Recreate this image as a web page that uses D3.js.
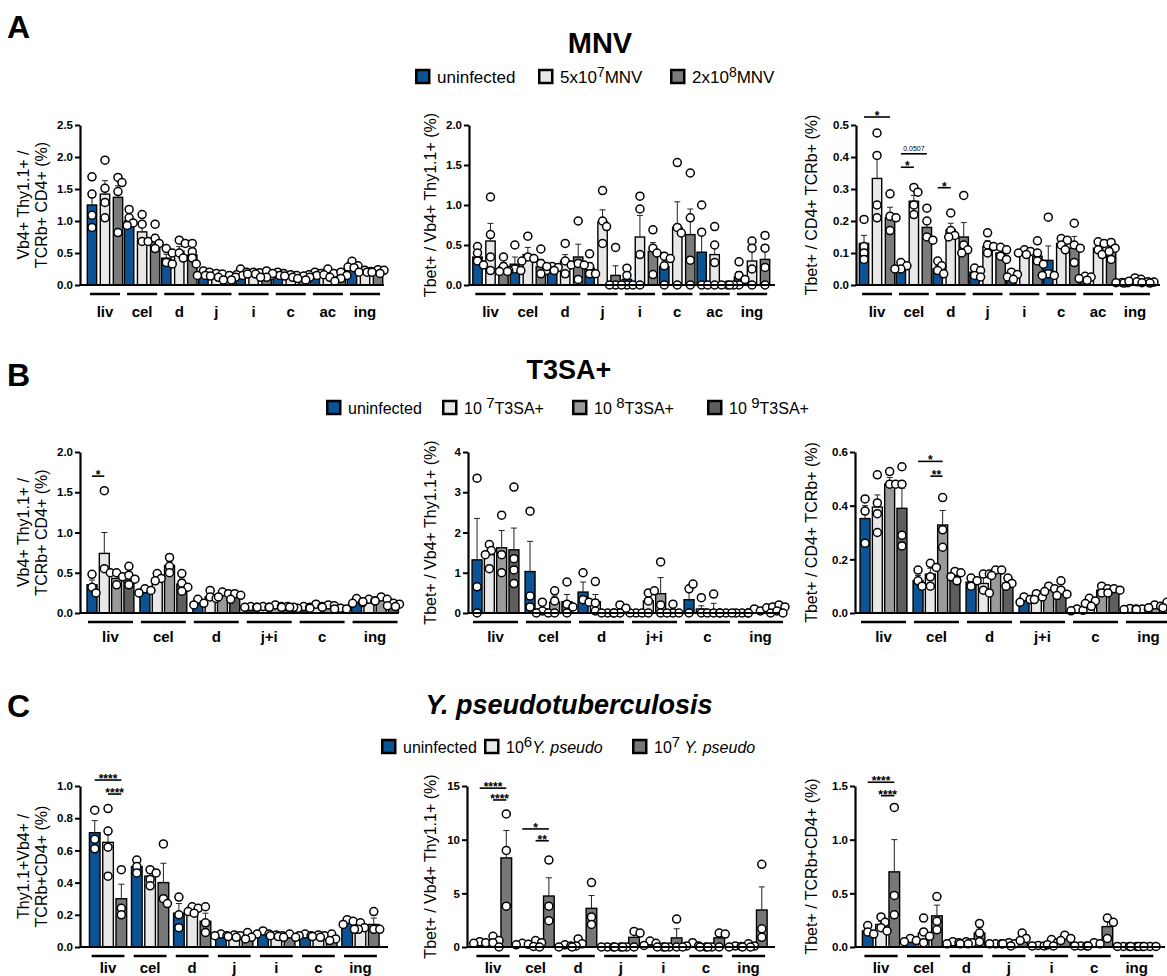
<!DOCTYPE html>
<html>
<head>
<meta charset="utf-8">
<script src="https://cdn.jsdelivr.net/npm/d3@7"></script>
<style>
  body { margin: 0; background: #fff; }
  svg { display: block; font-family: "Liberation Sans", Arial, sans-serif; }
</style>
</head>
<body>
<svg id="fig" width="1167" height="976"></svg>
<script>
// ---------- groups / series ----------
var mnvGroups = ["liv", "cel", "d", "j", "i", "c", "ac", "ing"];
var t3Groups = ["liv", "cel", "d", "j+i", "c", "ing"];
var ypGroups = ["liv", "cel", "d", "j", "i", "c", "ing"];

var mnvSeries = ["uninfected", "5x10{7}MNV", "2x10{8}MNV"];
var t3Series = ["uninfected", "10 {7}T3SA+", "10 {8}T3SA+", "10 {9}T3SA+"];
var ypSeries = ["uninfected", "10{6}_Y. pseudo_", "10{7} _Y. pseudo_"];

var mnvColors = ["#0b5394", "#e8e8e8", "#7b7b7b"];
var t3Colors = ["#0b5394", "#e8e8e8", "#9a9a9a", "#5e5e5e"];
var ypColors = ["#0b5394", "#e8e8e8", "#777777"];

// ---------- A: MNV ----------
var a1Mean = [[1.25, 1.00, 0.42, 0.17, 0.17, 0.16, 0.18, 0.30],
              [1.42, 0.83, 0.53, 0.15, 0.18, 0.14, 0.18, 0.21],
              [1.37, 0.70, 0.47, 0.11, 0.16, 0.12, 0.13, 0.21]];
var a1Sem = [[0.18, 0.08, 0.06, 0.02, 0.02, 0.01, 0.01, 0.03],
             [0.21, 0.10, 0.07, 0.01, 0.01, 0.01, 0.03, 0.01],
             [0.18, 0.09, 0.07, 0.02, 0.03, 0.02, 0.03, 0.01]];
var a1Pts = [
  [[1.69,1.42,1.09,0.90],[1.18,1.05,0.97,0.93],[0.57,0.50,0.35,0.33],[0.22,0.20,0.15,0.15],[0.25,0.20,0.16,0.15],[0.20,0.18,0.15,0.15],[0.20,0.18,0.16,0.15],[0.37,0.30,0.28,0.27]],
  [[1.95,1.51,1.29,1.05],[1.10,0.95,0.68,0.68],[0.70,0.65,0.50,0.42],[0.18,0.17,0.14,0.12],[0.20,0.19,0.17,0.17],[0.16,0.15,0.14,0.12],[0.25,0.18,0.16,0.12],[0.23,0.21,0.20,0.20]],
  [[1.68,1.60,1.46,0.82],[0.95,0.73,0.65,0.57],[0.65,0.52,0.42,0.33],[0.15,0.12,0.08,0.08],[0.22,0.18,0.12,0.12],[0.14,0.12,0.10,0.08],[0.20,0.15,0.10,0.06],[0.24,0.23,0.20,0.18]]];

var a2Mean = [[0.35, 0.26, 0.20, 0.21, 0.07, 0.23, 0.41, 0.10],
              [0.55, 0.38, 0.30, 0.79, 0.60, 0.72, 0.38, 0.30],
              [0.23, 0.23, 0.35, 0.12, 0.42, 0.63, 0.00, 0.32]];
var a2Sem = [[0.05, 0.09, 0.03, 0.07, 0.05, 0.07, 0.22, 0.07],
             [0.22, 0.09, 0.08, 0.15, 0.27, 0.32, 0.09, 0.13],
             [0.05, 0.09, 0.16, 0.12, 0.11, 0.32, 0.00, 0.13]];
var a2Pts = [
  [[0.48,0.40,0.30,0.25],[0.50,0.20,0.18,0.18],[0.23,0.22,0.18,0.18],[0.39,0.23,0.14,0.14],[0.21,0.12,0,0],[0.36,0.33,0.24,0],[1.00,0.66,0,0],[0.29,0.12,0.07,0]],
  [[1.10,0.63,0.35,0.18],[0.61,0.35,0.33,0.30],[0.52,0.30,0.25,0.14],[1.18,0.80,0.73,0.52],[1.11,0.95,0.38,0],[1.53,0.72,0.65,0],[0.73,0.50,0.28,0],[0.55,0.46,0.20,0]],
  [[0.35,0.23,0.17,0.17],[0.45,0.27,0.23,0.14],[0.80,0.27,0.25,0.07],[0.47,0,0,0],[0.69,0.46,0.40,0.13],[1.40,0.84,0.31,0],[0,0,0,0],[0.62,0.46,0.22,0]]];

var a3Mean = [[0.130, 0.060, 0.050, 0.040, 0.028, 0.077, 0.020, 0.007],
              [0.333, 0.262, 0.172, 0.120, 0.100, 0.130, 0.115, 0.015],
              [0.210, 0.180, 0.150, 0.100, 0.090, 0.115, 0.110, 0.008]];
var a3Sem = [[0.025, 0.005, 0.010, 0.006, 0.005, 0.045, 0.003, 0.001],
             [0.062, 0.018, 0.021, 0.018, 0.005, 0.010, 0.010, 0.003],
             [0.033, 0.015, 0.045, 0.010, 0.015, 0.037, 0.010, 0.001]];
var a3Pts = [
  [[0.205,0.12,0.10,0.08],[0.07,0.06,0.05,0.05],[0.075,0.06,0.045,0.035],[0.053,0.045,0.03,0.025],[0.04,0.033,0.025,0.018],[0.212,0.035,0.03,0.03],[0.027,0.025,0.02,0.015],[0.008,0.007,0.007,0.006]],
  [[0.475,0.405,0.25,0.21],[0.305,0.29,0.25,0.22],[0.225,0.17,0.155,0.15],[0.163,0.125,0.12,0.10],[0.11,0.105,0.10,0.095],[0.145,0.14,0.125,0.11],[0.135,0.13,0.11,0.095],[0.022,0.018,0.012,0.01]],
  [[0.285,0.215,0.21,0.17],[0.24,0.20,0.15,0.14],[0.28,0.125,0.11,0.10],[0.118,0.11,0.09,0.08],[0.138,0.10,0.075,0.065],[0.193,0.125,0.115,0.07],[0.133,0.115,0.105,0.08],[0.01,0.009,0.007,0.006]]];
// [group, fromSeries, toSeries, value, label]
var a3Sig = [[0, 0, 2, 0.525, "*"], [1, 0, 2, 0.41, "0.0507"], [1, 0, 1, 0.368, "*"], [2, 0, 1, 0.304, "*"]];

// ---------- B: T3SA+ ----------
var b1Mean = [[0.35, 0.27, 0.13, 0.07, 0.07, 0.14],
              [0.74, 0.43, 0.20, 0.07, 0.07, 0.15],
              [0.43, 0.59, 0.22, 0.08, 0.09, 0.17],
              [0.45, 0.36, 0.20, 0.07, 0.05, 0.10]];
var b1Sem = [[0.06, 0.02, 0.03, 0.01, 0.01, 0.02],
             [0.26, 0.03, 0.03, 0.01, 0.01, 0.01],
             [0.04, 0.05, 0.02, 0.01, 0.01, 0.02],
             [0.05, 0.06, 0.02, 0.01, 0.01, 0.01]];
var b1Pts = [
  [[0.48,0.32,0.25],[0.30,0.28,0.25],[0.17,0.12,0.10],[0.08,0.07,0.07],[0.08,0.07,0.06],[0.18,0.13,0.12]],
  [[1.52,0.55,0.50],[0.49,0.43,0.40],[0.28,0.20,0.18],[0.08,0.07,0.07],[0.11,0.08,0.06],[0.17,0.15,0.14]],
  [[0.50,0.45,0.35],[0.69,0.58,0.50],[0.26,0.24,0.20],[0.10,0.08,0.07],[0.10,0.09,0.07],[0.20,0.17,0.15]],
  [[0.58,0.47,0.42,0.35],[0.49,0.37,0.32,0.27],[0.24,0.22,0.17],[0.08,0.07,0.07,0.07],[0.06,0.05,0.05],[0.12,0.11,0.09,0.08]]];
var b1Sig = [[0, 0, 1, 1.70, "*"]];

var b2Mean = [[1.32, 1.03, 0.52, 0.00, 0.33, 0.00],
              [1.45, 0.10, 0.28, 0.30, 0.10, 0.05],
              [1.62, 0.27, 0.00, 0.48, 0.08, 0.10],
              [1.57, 0.28, 0.08, 0.05, 0.00, 0.12]];
var b2Sem = [[1.03, 0.75, 0.25, 0.00, 0.24, 0.00],
             [0.12, 0.08, 0.18, 0.12, 0.08, 0.03],
             [0.43, 0.15, 0.00, 0.40, 0.16, 0.04],
             [0.54, 0.18, 0.05, 0.05, 0.00, 0.06]];
var b2Pts = [
  [[3.35,0.65,0],[2.53,0.42,0.15],[1.00,0.33,0.27],[0,0,0],[0.60,0.72,0],[0,0,0]],
  [[1.70,1.55,1.45,1.10],[0.27,0.05,0,0],[0.78,0.25,0.05],[0.50,0.55,0.30,0],[0.38,0,0],[0.10,0.05,0]],
  [[2.43,1.45,1.00],[0.55,0.30,0],[0,0,0],[1.27,0.20,0],[0.47,0,0],[0.13,0.15,0]],
  [[3.13,1.35,1.07,0.73],[0.77,0.22,0.15,0],[0.20,0.12,0,0],[0.22,0,0,0],[0,0,0],[0.20,0.15,0.05,0]]];

var b3Mean = [[0.352, 0.120, 0.115, 0.050, 0.010, 0.015],
              [0.395, 0.145, 0.110, 0.060, 0.040, 0.015],
              [0.480, 0.328, 0.155, 0.085, 0.085, 0.025],
              [0.390, 0.140, 0.110, 0.075, 0.080, 0.030]];
var b3Sem = [[0.048, 0.020, 0.010, 0.006, 0.003, 0.002],
             [0.045, 0.022, 0.035, 0.007, 0.010, 0.001],
             [0.025, 0.054, 0.007, 0.007, 0.008, 0.003],
             [0.075, 0.008, 0.010, 0.013, 0.005, 0.006]];
var b3Pts = [
  [[0.425,0.38,0.26],[0.16,0.12,0.10],[0.13,0.12,0.10],[0.06,0.05,0.04],[0.015,0.01,0.008],[0.017,0.015,0.013]],
  [[0.515,0.41,0.37,0.30],[0.185,0.17,0.135,0.10],[0.145,0.145,0.085,0.075],[0.072,0.06,0.05],[0.055,0.045,0.035,0.025],[0.015,0.014,0.013]],
  [[0.527,0.48,0.48],[0.43,0.31,0.245],[0.16,0.16,0.14],[0.10,0.09,0.08],[0.10,0.09,0.075],[0.03,0.025,0.02]],
  [[0.545,0.48,0.29,0.25],[0.155,0.15,0.135,0.12],[0.13,0.11,0.10],[0.12,0.085,0.07,0.065],[0.09,0.085,0.075],[0.04,0.035,0.02]]];
var b3Sig = [[1, 0, 2, 0.565, "*"], [1, 1, 2, 0.51, "**"]];

// ---------- C: Y. pseudotuberculosis ----------
var c1Mean = [[0.71, 0.50, 0.21, 0.07, 0.08, 0.07, 0.15],
              [0.65, 0.44, 0.23, 0.07, 0.07, 0.07, 0.12],
              [0.30, 0.40, 0.16, 0.07, 0.07, 0.05, 0.14]];
var c1Sem = [[0.075, 0.02, 0.06, 0.005, 0.007, 0.004, 0.01],
             [0.05, 0.02, 0.01, 0.004, 0.003, 0.004, 0.01],
             [0.09, 0.12, 0.05, 0.01, 0.007, 0.01, 0.04]];
var c1Pts = [
  [[0.85,0.67,0.61],[0.54,0.50,0.46],[0.31,0.20,0.12],[0.08,0.07,0.07],[0.10,0.08,0.08],[0.08,0.07,0.07],[0.17,0.16,0.14]],
  [[0.86,0.72,0.62,0.44],[0.48,0.46,0.42,0.38],[0.25,0.24,0.22,0.21],[0.075,0.07,0.065,0.06],[0.075,0.07,0.07,0.065],[0.075,0.07,0.065,0.06],[0.15,0.12,0.11,0.11]],
  [[0.48,0.24,0.20],[0.64,0.30,0.27],[0.25,0.15,0.09],[0.09,0.06,0.05],[0.08,0.06,0.06],[0.08,0.05,0.04],[0.22,0.11,0.11]]];
var c1Sig = [[0, 0, 2, 1.037, "****"], [0, 1, 2, 0.95, "****"]];

var c2Mean = [[0.40, 0.25, 0.10, 0.00, 0.35, 0.20, 0.05],
              [0.50, 0.35, 0.40, 0.00, 0.00, 0.00, 0.10],
              [8.30, 4.75, 3.60, 0.90, 0.85, 0.85, 3.45]];
var c2Sem = [[0.05, 0.05, 0.06, 0.00, 0.12, 0.10, 0.03],
             [0.20, 0.15, 0.20, 0.00, 0.00, 0.00, 0.07],
             [2.55, 1.70, 1.20, 0.45, 0.85, 0.40, 2.15]];
var c2Pts = [
  [[0.5,0.4,0.35],[0.35,0.25,0.2],[0.2,0.1,0],[0,0,0],[0.55,0.35,0.15],[0.4,0.1,0.1],[0.1,0.05,0]],
  [[1.0,0.6,0.4,0],[0.6,0.4,0.05,0],[0.75,0.3,0.1,0],[0,0,0,0],[0,0,0,0],[0,0,0,0],[0.3,0.1,0,0]],
  [[12.4,9.0,3.8],[8.1,3.8,2.45],[6.0,2.8,2.1],[1.45,1.3,0],[2.6,0,0],[1.3,1.2,0],[7.7,1.7,0.9]]];
var c2Sig = [[0, 0, 2, 14.8, "****"], [0, 1, 2, 13.7, "****"], [1, 0, 2, 11.0, "*"], [1, 1, 2, 9.9, "**"]];

var c3Mean = [[0.15, 0.06, 0.04, 0.03, 0.01, 0.01, 0.005],
              [0.21, 0.13, 0.04, 0.03, 0.04, 0.03, 0.005],
              [0.70, 0.29, 0.13, 0.08, 0.08, 0.19, 0.005]];
var c3Sem = [[0.025, 0.01, 0.005, 0.002, 0.002, 0.001, 0],
             [0.03, 0.04, 0.005, 0.005, 0.012, 0.01, 0],
             [0.30, 0.10, 0.05, 0.02, 0.015, 0.055, 0]];
var c3Pts = [
  [[0.20,0.14,0.12],[0.08,0.06,0.05],[0.05,0.04,0.03],[0.03,0.03,0.03],[0.015,0.01,0.01],[0.01,0.01,0.01],[0.005,0.005,0.005]],
  [[0.28,0.23,0.18,0.15],[0.27,0.14,0.10,0.04],[0.05,0.04,0.03,0.03],[0.04,0.03,0.03,0.01],[0.07,0.04,0.02,0.01],[0.04,0.03,0.01],[0.005,0.005,0.005,0.005]],
  [[1.30,0.48,0.30],[0.47,0.24,0.16],[0.22,0.13,0.05],[0.13,0.08,0.06],[0.11,0.08,0.06],[0.27,0.23,0.08],[0.005,0.005,0.005]]];
var c3Sig = [[0, 0, 2, 1.535, "****"], [0, 1, 2, 1.41, "****"]];

// ---------- drawing ----------
var svg = d3.select("#fig");

// "10{7}_Y. pseudo_" -> tspans (superscript in braces, italic between underscores)
function richText(sel, label, supSize, supRise) {
  var parts = label.split(/(\{[^}]*\}|_[^_]*_)/).filter(function(p) { return p !== ""; });
  var shifted = false;
  parts.forEach(function(p) {
    var t = sel.append("tspan");
    if (p[0] === "{") {
      t.text(p.slice(1, -1)).attr("font-size", supSize).attr("dy", -supRise);
      shifted = true;
    } else {
      if (shifted) { t.attr("dy", supRise); shifted = false; }
      if (p[0] === "_") t.text(p.slice(1, -1)).attr("font-style", "italic");
      else t.text(p);
    }
  });
}

function drawLegend(labels, colors, xs, y, fs, supSize, supRise) {
  var g = svg.append("g");
  labels.forEach(function(lab, i) {
    g.append("rect").attr("x", xs[i] + 1.25).attr("y", y - 7).attr("width", 13).attr("height", 13)
      .attr("fill", colors[i]).attr("stroke", "#000").attr("stroke-width", 2.5);
    var t = g.append("text").attr("x", xs[i] + 22).attr("y", y + fs * 0.36)
      .attr("font-size", fs);
    richText(t, lab, supSize, supRise);
  });
}

function swarm(vals, yScale, r, maxOff) {
  var placed = [];
  var cands = [0];
  for (var k = 1; k <= 6; k++) { cands.push(k * r * 0.5, -k * r * 0.5); }
  return vals.map(function(v) {
    var py = yScale(v), best = 0, bestScore = -1;
    for (var c = 0; c < cands.length; c++) {
      if (Math.abs(cands[c]) > maxOff) continue;
      var dmin = d3.min(placed, function(p) { return Math.hypot(p.x - cands[c], p.y - py); });
      if (dmin === undefined) dmin = 99;
      if (dmin >= r * 1.55) { best = cands[c]; bestScore = 99; break; }
      if (dmin > bestScore) { bestScore = dmin; best = cands[c]; }
    }
    placed.push({x: best, y: py});
    return {x: best, y: py};
  });
}

function drawPanel(p) {
  var g = svg.append("g");
  var y = d3.scaleLinear().domain([0, p.max]).range([p.y0, p.y1]);
  var x = d3.scaleBand().domain(p.groups).range(p.band)
    .paddingInner(p.linePad).paddingOuter(p.linePad / 2);
  var n = p.mean.length;
  var inner = d3.scaleBand().domain(d3.range(n))
    .range([-n * p.pitch / 2, n * p.pitch / 2])
    .paddingInner(p.barPad).paddingOuter(p.barPad / 2);
  var bw = inner.bandwidth();
  function cx(gi, s) { return x(p.groups[gi]) + x.bandwidth() / 2 + inner(s) + bw / 2; }

  // bars
  p.mean.forEach(function(row, s) {
    row.forEach(function(m, gi) {
      g.append("rect").attr("x", cx(gi, s) - bw / 2).attr("y", y(m))
        .attr("width", bw).attr("height", Math.max(0, y(0) - y(m)))
        .attr("fill", p.colors[s]).attr("stroke", "#000").attr("stroke-width", 1.4);
    });
  });
  // error bars (SEM, upward)
  p.mean.forEach(function(row, s) {
    row.forEach(function(m, gi) {
      var se = p.sem[s][gi];
      if (se <= 0) return;
      var c = cx(gi, s);
      g.append("line").attr("x1", c).attr("x2", c).attr("y1", y(m)).attr("y2", y(m + se))
        .attr("stroke", "#222").attr("stroke-width", 1);
      g.append("line").attr("x1", c - 3).attr("x2", c + 3).attr("y1", y(m + se)).attr("y2", y(m + se))
        .attr("stroke", "#222").attr("stroke-width", 1);
    });
  });
  // individual points
  p.pts.forEach(function(row, s) {
    row.forEach(function(vals, gi) {
      var c = cx(gi, s);
      swarm(vals, y, 4, bw * 0.65).forEach(function(d) {
        g.append("circle").attr("cx", c + d.x).attr("cy", d.y).attr("r", 4)
          .attr("fill", "#fff").attr("stroke", "#000").attr("stroke-width", 1.5);
      });
    });
  });
  // x baseline
  g.append("line").attr("x1", p.axisX).attr("x2", p.axisEnd).attr("y1", y(0)).attr("y2", y(0))
    .attr("stroke", "#000").attr("stroke-width", 2.2);
  // y axis
  var ax = g.append("g").attr("transform", "translate(" + p.axisX + ",0)")
    .call(d3.axisLeft(y).tickValues(d3.range(0, p.max + p.step / 2, p.step))
      .tickSize(5).tickSizeOuter(0).tickFormat(d3.format(p.fmt)));
  ax.select(".domain").attr("stroke-width", 2.2);
  ax.selectAll(".tick line").attr("stroke-width", 2);
  ax.selectAll(".tick text").attr("font-size", 11.5).attr("font-weight", "bold")
    .attr("font-family", "Liberation Sans, Arial, sans-serif").attr("fill", "#000").attr("x", -7);
  // group underlines and labels
  p.groups.forEach(function(grp) {
    g.append("line").attr("x1", x(grp)).attr("x2", x(grp) + x.bandwidth())
      .attr("y1", y(0) + 9).attr("y2", y(0) + 9).attr("stroke", "#000").attr("stroke-width", 2.5);
    g.append("text").attr("x", x(grp) + x.bandwidth() / 2).attr("y", y(0) + p.labDy)
      .attr("text-anchor", "middle").attr("font-size", 15).attr("font-weight", "bold").text(grp);
  });
  // y title
  var midY = (p.y0 + p.y1) / 2;
  p.ylab.forEach(function(line, i) {
    g.append("text").attr("transform", "translate(" + p.ylabX[i] + "," + midY + ") rotate(-90)")
      .attr("text-anchor", "middle").attr("dominant-baseline", "central")
      .attr("font-size", 16).text(line);
  });
  // significance
  (p.sig || []).forEach(function(sg) {
    var xa = cx(sg[0], sg[1]), xb = cx(sg[0], sg[2]), yy = y(sg[3]);
    g.append("line").attr("x1", xa).attr("x2", xb).attr("y1", yy).attr("y2", yy)
      .attr("stroke", "#000").attr("stroke-width", 1.6);
    var small = sg[4][0] !== "*";
    g.append("text").attr("x", (xa + xb) / 2).attr("y", small ? yy - 3 : yy + 3)
      .attr("text-anchor", "middle").attr("font-size", small ? 7 : 12)
      .attr("fill", "#000")
      .attr("font-weight", small ? "normal" : "bold").text(sg[4]);
  });
}

// panel letters and titles
[["A", 38], ["B", 386], ["C", 717]].forEach(function(d) {
  svg.append("text").attr("x", 7).attr("y", d[1]).attr("font-size", 32).attr("font-weight", "bold").text(d[0]);
});
svg.append("text").attr("x", 600).attr("y", 53).attr("text-anchor", "middle")
  .attr("font-size", 29).attr("font-weight", "bold").text("MNV");
svg.append("text").attr("x", 569).attr("y", 379).attr("text-anchor", "middle")
  .attr("font-size", 27).attr("font-weight", "bold").text("T3SA+");
svg.append("text").attr("x", 569).attr("y", 714).attr("text-anchor", "middle")
  .attr("font-size", 27).attr("font-weight", "bold").attr("font-style", "italic").text("Y. pseudotuberculosis");

drawLegend(mnvSeries, mnvColors, [415, 538, 670], 77, 17, 14, 6);
drawLegend(t3Series, t3Colors, [326, 442, 572, 707], 408, 16, 15, 6);
drawLegend(ypSeries, ypColors, [381, 484, 632], 747, 16, 15, 6);

var rowA = {y0: 285, y1: 125, linePad: 0.19, pitch: 13, barPad: 0.28, labDy: 32};
var rowB = {y0: 613, y1: 452, linePad: 0.15, pitch: 12.3, barPad: 0.19, labDy: 29};
var rowC = {y0: 947, y1: 786, linePad: 0.22, pitch: 13.3, barPad: 0.2, labDy: 26};

function panel(row, extra) { return Object.assign({}, row, extra); }

drawPanel(panel(rowA, {groups: mnvGroups, colors: mnvColors, mean: a1Mean, sem: a1Sem, pts: a1Pts,
  axisX: 80, band: [86.4, 383.6], axisEnd: 384, max: 2.5, step: 0.5, fmt: ".1f",
  ylab: ["Vb4+ Thy1.1+ /", "TCRb+ CD4+ (%)"], ylabX: [23, 41]}));
drawPanel(panel(rowA, {groups: mnvGroups, colors: mnvColors, mean: a2Mean, sem: a2Sem, pts: a2Pts,
  axisX: 469, band: [471.8, 770.7], axisEnd: 775, max: 2.0, step: 0.5, fmt: ".1f",
  ylab: ["Tbet+ / Vb4+ Thy1.1+ (%)"], ylabX: [430]}));
drawPanel(panel(rowA, {groups: mnvGroups, colors: mnvColors, mean: a3Mean, sem: a3Sem, pts: a3Pts, sig: a3Sig,
  axisX: 856, band: [858.6, 1153.4], axisEnd: 1160, max: 0.5, step: 0.1, fmt: ".1f",
  ylab: ["Tbet+ / CD4+ TCRb+ (%)"], ylabX: [811]}));

drawPanel(panel(rowB, {groups: t3Groups, colors: t3Colors, mean: b1Mean, sem: b1Sem, pts: b1Pts, sig: b1Sig,
  axisX: 80, band: [84, 401.5], axisEnd: 398, max: 2.0, step: 0.5, fmt: ".1f",
  ylab: ["Vb4+ Thy1.1+ /", "TCRb+ CD4+ (%)"], ylabX: [23, 41]}));
drawPanel(panel(rowB, {groups: t3Groups, colors: t3Colors, mean: b2Mean, sem: b2Sem, pts: b2Pts,
  axisX: 468, band: [469, 787], axisEnd: 780, max: 4, step: 1, fmt: "d",
  ylab: ["Tbet+ / Vb4+ Thy1.1+ (%)"], ylabX: [430]}));
drawPanel(panel(rowB, {groups: t3Groups, colors: t3Colors, mean: b3Mean, sem: b3Sem, pts: b3Pts, sig: b3Sig,
  axisX: 855, band: [857, 1175], axisEnd: 1167, max: 0.6, step: 0.2, fmt: ".1f",
  ylab: ["Tbet+ / CD4+ TCRb+ (%)"], ylabX: [811]}));

drawPanel(panel(rowC, {groups: ypGroups, colors: ypColors, mean: c1Mean, sem: c1Sem, pts: c1Pts, sig: c1Sig,
  axisX: 80, band: [87, 381.5], axisEnd: 388, max: 1.0, step: 0.2, fmt: ".1f",
  ylab: ["Thy1.1+Vb4+ /", "TCRb+CD4+ (%)"], ylabX: [23, 41]}));
drawPanel(panel(rowC, {groups: ypGroups, colors: ypColors, mean: c2Mean, sem: c2Sem, pts: c2Pts, sig: c2Sig,
  axisX: 467, band: [471.7, 769.8], axisEnd: 775, max: 15, step: 5, fmt: "d",
  ylab: ["Tbet+ / Vb4+ Thy1.1+ (%)"], ylabX: [430]}));
drawPanel(panel(rowC, {groups: ypGroups, colors: ypColors, mean: c3Mean, sem: c3Sem, pts: c3Pts, sig: c3Sig,
  axisX: 855, band: [859.7, 1158], axisEnd: 1165, max: 1.5, step: 0.5, fmt: ".1f",
  ylab: ["Tbet+ / TCRb+CD4+ (%)"], ylabX: [811]}));
</script>
</body>
</html>
